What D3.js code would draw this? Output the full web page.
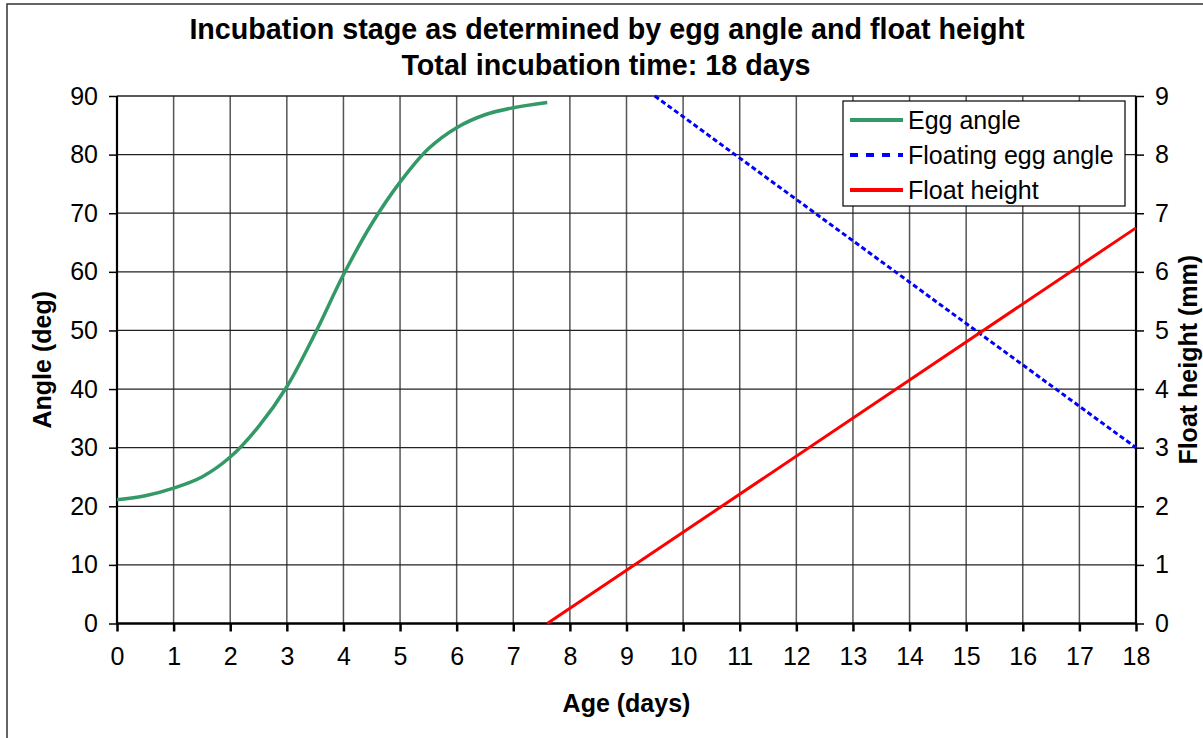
<!DOCTYPE html>
<html>
<head>
<meta charset="utf-8">
<script src="https://cdn.jsdelivr.net/npm/d3@7"></script>
<style>
  body { margin: 0; background: #fff; }
  svg { display: block; font-family: Arial, "Liberation Sans", sans-serif; }
</style>
</head>
<body>
<div id="chart"></div>
<script>
// ---------------------------------------------------------------------------
// DATA
// ---------------------------------------------------------------------------
const ageTicks = d3.range(0, 19);
const angleTicks = d3.range(0, 100, 10);
const heightTicks = d3.range(0, 10);

// egg angle (deg) vs age (days)
const eggAge = [0, 0.5, 1, 1.5, 2, 2.5, 3, 3.5, 4, 4.5, 5, 5.5, 6, 6.5, 7, 7.6];
const eggAngle = [21.1, 21.8, 23.1, 25.0, 28.4, 33.6, 40.4, 49.5, 59.5, 68.2, 75.3, 81.0, 84.6, 86.8, 88.0, 88.9];

// floating egg angle (deg)
const floatAge = [9.5, 18];
const floatAngle = [90, 30];

// float height (mm), right axis
const heightAge = [7.6, 18];
const floatHeight = [0, 6.75];

const legendItems = [
  { name: 'Egg angle', color: '#339966', dash: null },
  { name: 'Floating egg angle', color: '#0000ff', dash: '8,8' },
  { name: 'Float height', color: '#ff0000', dash: null },
];

// ---------------------------------------------------------------------------
// SET UP
// ---------------------------------------------------------------------------
const width = 1203;
const height = 738;
const margin = { top: 96, right: 67, bottom: 114.5, left: 117 };
const plotW = width - margin.left - margin.right; // 1019
const plotH = height - margin.top - margin.bottom; // 527.5

const svg = d3.select('#chart').append('svg')
  .attr('width', width)
  .attr('height', height);

// outer chart border
svg.append('rect')
  .attr('x', 7).attr('y', 4)
  .attr('width', 1210).attr('height', 760)
  .attr('fill', 'none')
  .attr('stroke', '#333')
  .attr('stroke-width', 1.5);

const x = d3.scaleLinear().domain([0, 18]).range([0, plotW]);
const yL = d3.scaleLinear().domain([0, 90]).range([plotH, 0]);
const yR = d3.scaleLinear().domain([0, 9]).range([plotH, 0]);

const g = svg.append('g')
  .attr('transform', `translate(${margin.left},${margin.top})`);

// grid
g.append('g').selectAll('line')
  .data(ageTicks.slice(1, -1))
  .join('line')
    .attr('x1', d => x(d)).attr('x2', d => x(d))
    .attr('y1', 0).attr('y2', plotH)
    .attr('stroke', '#555')
    .attr('stroke-width', 1.5);

g.append('g').selectAll('line')
  .data(angleTicks.slice(1))
  .join('line')
    .attr('x1', 0).attr('x2', plotW)
    .attr('y1', d => yL(d)).attr('y2', d => yL(d))
    .attr('stroke', '#222')
    .attr('stroke-width', 1.3);

// axes
const tickFont = (sel) => sel.selectAll('text')
  .attr('font-size', 25)
  .attr('fill', '#000');

const xAxis = g.append('g')
  .attr('transform', `translate(0,${plotH})`)
  .call(d3.axisBottom(x).tickValues(ageTicks).tickSize(8).tickPadding(16).tickFormat(d3.format('d')));
xAxis.call(tickFont);

const yAxisL = g.append('g')
  .call(d3.axisLeft(yL).tickValues(angleTicks).tickSize(8).tickPadding(11));
yAxisL.call(tickFont);

const yAxisR = g.append('g')
  .attr('transform', `translate(${plotW},0)`)
  .call(d3.axisRight(yR).tickValues(heightTicks).tickSize(8).tickPadding(11));
yAxisR.call(tickFont);

[xAxis, yAxisL, yAxisR].forEach((a) => {
  a.select('.domain').remove();
  a.selectAll('.tick line').attr('stroke', '#000').attr('stroke-width', 1.5);
});
xAxis.selectAll('.tick line').attr('stroke-width', 2.5);

// axis lines
g.append('line')
  .attr('x1', 0).attr('x2', 0).attr('y1', 0).attr('y2', plotH)
  .attr('stroke', '#000').attr('stroke-width', 2.2);
g.append('line')
  .attr('x1', plotW).attr('x2', plotW).attr('y1', 0).attr('y2', plotH)
  .attr('stroke', '#000').attr('stroke-width', 2.2);
g.append('line')
  .attr('x1', 0).attr('x2', plotW).attr('y1', plotH).attr('y2', plotH)
  .attr('stroke', '#000').attr('stroke-width', 2.5);

// ---------------------------------------------------------------------------
// SERIES
// ---------------------------------------------------------------------------
const eggLine = d3.line()
  .x((d, i) => x(eggAge[i]))
  .y(d => yL(d))
  .curve(d3.curveCatmullRom);

g.append('path')
  .attr('d', eggLine(eggAngle))
  .attr('fill', 'none')
  .attr('stroke', '#339966')
  .attr('stroke-width', 3.5);

const floatLine = d3.line()
  .x((d, i) => x(floatAge[i]))
  .y(d => yL(d));

g.append('path')
  .attr('d', floatLine(floatAngle))
  .attr('fill', 'none')
  .attr('stroke', '#0000ff')
  .attr('stroke-width', 3)
  .attr('stroke-dasharray', '5,3');

const heightLine = d3.line()
  .x((d, i) => x(heightAge[i]))
  .y(d => yR(d));

g.append('path')
  .attr('d', heightLine(floatHeight))
  .attr('fill', 'none')
  .attr('stroke', '#ff0000')
  .attr('stroke-width', 3);

// ---------------------------------------------------------------------------
// LEGEND
// ---------------------------------------------------------------------------
const legend = svg.append('g').attr('transform', 'translate(843,101)');
legend.append('rect')
  .attr('width', 282).attr('height', 105)
  .attr('fill', '#fff')
  .attr('stroke', '#000')
  .attr('stroke-width', 1.2);

const item = legend.selectAll('g.item')
  .data(legendItems)
  .join('g')
    .attr('class', 'item')
    .attr('transform', (d, i) => `translate(0,${19 + i * 35})`);

item.append('line')
  .attr('x1', 7).attr('x2', 60)
  .attr('stroke', d => d.color)
  .attr('stroke-width', 4)
  .attr('stroke-dasharray', d => d.dash);

item.append('text')
  .attr('x', 65)
  .attr('dy', '0.35em')
  .attr('font-size', 25)
  .text(d => d.name);

// ---------------------------------------------------------------------------
// TITLES
// ---------------------------------------------------------------------------
svg.append('text')
  .attr('x', 607).attr('y', 39)
  .attr('text-anchor', 'middle')
  .attr('font-size', 28.7)
  .attr('font-weight', 'bold')
  .text('Incubation stage as determined by egg angle and float height');

svg.append('text')
  .attr('x', 606).attr('y', 75)
  .attr('text-anchor', 'middle')
  .attr('font-size', 28.7)
  .attr('font-weight', 'bold')
  .text('Total incubation time: 18 days');

svg.append('text')
  .attr('x', margin.left + plotW / 2).attr('y', 712)
  .attr('text-anchor', 'middle')
  .attr('font-size', 25)
  .attr('font-weight', 'bold')
  .text('Age (days)');

svg.append('text')
  .attr('transform', `translate(51,${margin.top + plotH / 2}) rotate(-90)`)
  .attr('text-anchor', 'middle')
  .attr('font-size', 25)
  .attr('font-weight', 'bold')
  .text('Angle (deg)');

svg.append('text')
  .attr('transform', `translate(1197,${margin.top + plotH / 2}) rotate(-90)`)
  .attr('text-anchor', 'middle')
  .attr('font-size', 25)
  .attr('font-weight', 'bold')
  .text('Float height (mm)');
</script>
</body>
</html>
